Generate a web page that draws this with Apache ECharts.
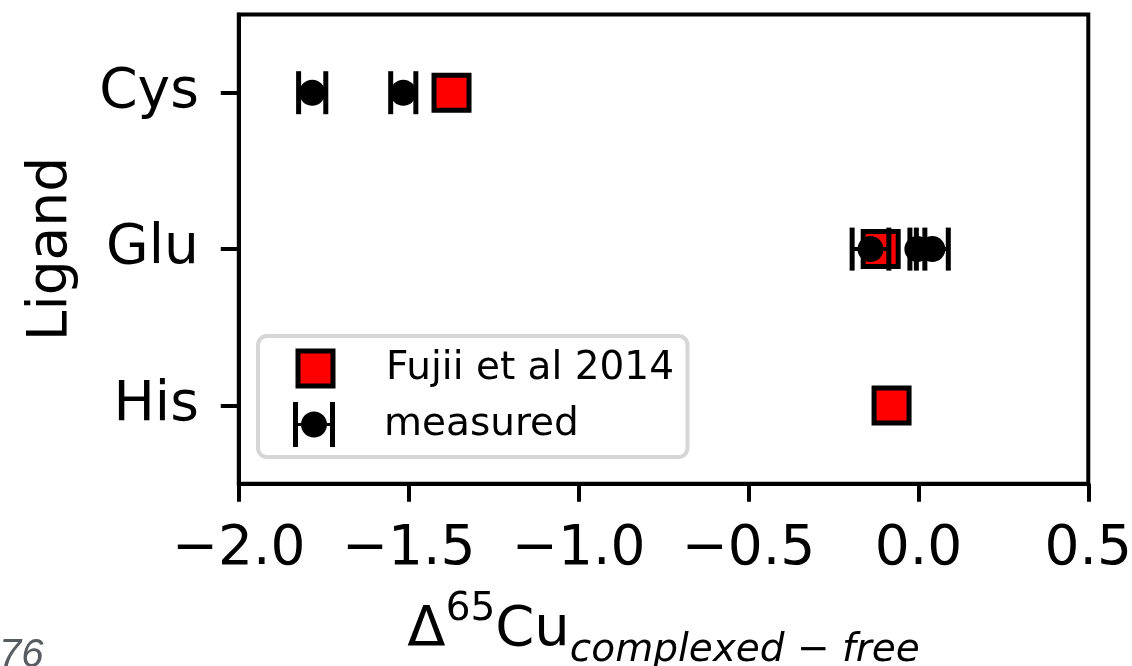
<!DOCTYPE html>
<html>
<head>
<meta charset="utf-8">
<script src="https://cdn.jsdelivr.net/npm/echarts@6/dist/echarts.min.js"></script>
<style>
  html, body { margin: 0; padding: 0; background: #fff; }
  #chart { width: 1132px; height: 666px; }
</style>
</head>
<body>
<div id="chart"></div>
<script>
// Ligand categories (bottom to top)
const ligands = ['His', 'Glu', 'Cys'];

// Literature values (Fujii et al 2014)
const fujiiLigand = ['Cys', 'Glu', 'His'];
const fujiiValues = [-1.374, -0.111, -0.079];

// Measured values with their uncertainties
const measuredLigand = ['Cys', 'Cys', 'Glu', 'Glu', 'Glu'];
const measuredValues = [-1.784, -1.516, -0.141, -0.003, 0.041];
const measuredErrors = [0.040, 0.037, 0.054, 0.022, 0.047];

// x axis range and step
const xMin = -2.0, xMax = 0.5, xStep = 0.5;

const FONT = "'DejaVu Sans', sans-serif";
const MINUS = '\u2212';

const fujiiData = fujiiValues.map((v, i) => [v, fujiiLigand[i]]);
const measuredData = measuredValues.map((v, i) => [v, measuredLigand[i], measuredErrors[i]]);

// horizontal error bar with caps
function renderErrorBar(params, api) {
  const x = api.value(0), cat = api.value(1), e = api.value(2);
  const l = api.coord([x - e, cat]);
  const r = api.coord([x + e, cat]);
  const cap = 21.5;
  return {
    type: 'group',
    children: [
      { type: 'line', shape: { x1: l[0], y1: l[1], x2: r[0], y2: r[1] }, style: { stroke: '#000', lineWidth: 4 } },
      { type: 'line', shape: { x1: l[0], y1: l[1] - cap, x2: l[0], y2: l[1] + cap }, style: { stroke: '#000', lineWidth: 5 } },
      { type: 'line', shape: { x1: r[0], y1: r[1] - cap, x2: r[0], y2: r[1] + cap }, style: { stroke: '#000', lineWidth: 5 } }
    ]
  };
}

const errorIcon = 'path://M0,0H5V45H0Z M37,0H42V45H37Z M5,21H8V24H5Z M34,21H37V24H34Z M8,22.5A13,13 0 1,1 34,22.5A13,13 0 1,1 8,22.5Z';

const chart = echarts.init(document.getElementById('chart'), null, { renderer: 'canvas' });

chart.setOption({
  animation: false,
  backgroundColor: '#fff',
  grid: {
    left: 238.8, right: 43.7, top: 14.5, bottom: 182.3,
    containLabel: false,
    outerBoundsMode: 'none',
    show: true, borderColor: '#000', borderWidth: 4, backgroundColor: 'transparent'
  },
  xAxis: {
    type: 'value',
    min: xMin, max: xMax, interval: xStep,
    axisLine: { show: true, lineStyle: { color: '#000', width: 4 } },
    axisTick: { show: true, length: 18, lineStyle: { color: '#000', width: 4 } },
    splitLine: { show: false },
    axisLabel: {
      color: '#000', fontSize: 55, fontFamily: FONT, margin: 39,
      showMinLabel: true, showMaxLabel: true,
      formatter: v => (v < 0 ? MINUS : '') + Math.abs(v).toFixed(1)
    },
    name: '{m|\u0394}{sup|65}{m|Cu}{sub|complexed \u2212 free}',
    nameLocation: 'middle',
    nameGap: 107,
    nameTextStyle: {
      color: '#000', fontFamily: FONT,
      rich: {
        m: { fontSize: 56, fontFamily: FONT, color: '#000', lineHeight: 80, verticalAlign: 'middle' },
        sup: { fontSize: 39, fontFamily: FONT, color: '#000', lineHeight: 44, verticalAlign: 'top' },
        sub: { fontSize: 39, fontFamily: FONT, fontStyle: 'italic', color: '#000', lineHeight: 50, verticalAlign: 'bottom' }
      }
    }
  },
  yAxis: {
    type: 'category',
    data: ligands,
    boundaryGap: true,
    axisLine: { show: true, onZero: false, lineStyle: { color: '#000', width: 4 } },
    axisTick: { show: true, alignWithLabel: true, length: 18, lineStyle: { color: '#000', width: 4 } },
    splitLine: { show: false },
    axisLabel: { color: '#000', fontSize: 55, fontFamily: FONT, margin: 40 },
    name: 'Ligand',
    nameLocation: 'middle',
    nameGap: 160,
    nameTextStyle: { color: '#000', fontSize: 55, fontFamily: FONT }
  },
  legend: [
    {
      left: 258, top: 336,
      orient: 'vertical',
      selectedMode: false,
      padding: [12.5, 13.5, 68.5, 37.5],
      backgroundColor: '#fff',
      borderColor: '#d6d6d6', borderWidth: 4, borderRadius: 9,
      itemWidth: 35, itemHeight: 35,
      textStyle: { color: '#000', fontSize: 39, fontFamily: FONT, padding: [0, 0, 6, 48] },
      data: [{
        name: 'Fujii et al 2014', icon: 'rect',
        itemStyle: { color: '#ff0000', borderColor: '#000', borderWidth: 5 }
      }],
      z: 10
    },
    {
      left: 293, top: 402,
      orient: 'vertical',
      selectedMode: false,
      padding: 0,
      itemWidth: 42, itemHeight: 45,
      textStyle: { color: '#000', fontSize: 39, fontFamily: FONT, padding: [0, 0, 8, 44] },
      data: [{
        name: 'measured', icon: errorIcon,
        itemStyle: { color: '#000', borderWidth: 0 }
      }],
      z: 11
    }
  ],
  series: [
    {
      name: 'Fujii et al 2014',
      type: 'scatter',
      data: fujiiData,
      symbol: 'rect',
      symbolSize: 35,
      itemStyle: { color: '#ff0000', borderColor: '#000', borderWidth: 5, opacity: 1 },
      emphasis: { disabled: true },
      z: 2
    },
    {
      name: 'measured',
      type: 'custom',
      renderItem: renderErrorBar,
      data: measuredData,
      encode: { x: 0, y: 1 },
      z: 3
    },
    {
      name: 'measured',
      type: 'scatter',
      data: measuredData,
      encode: { x: 0, y: 1 },
      symbol: 'circle',
      symbolSize: 26,
      itemStyle: { color: '#000', opacity: 1 },
      emphasis: { disabled: true },
      z: 4
    }
  ],
  graphic: [
    {
      type: 'text',
      left: -1, top: 636,
      style: { text: '76', font: 'italic 40px "Liberation Sans", Arial, sans-serif', fill: '#575c61' },
      silent: true
    }
  ]
});
</script>
</body>
</html>
